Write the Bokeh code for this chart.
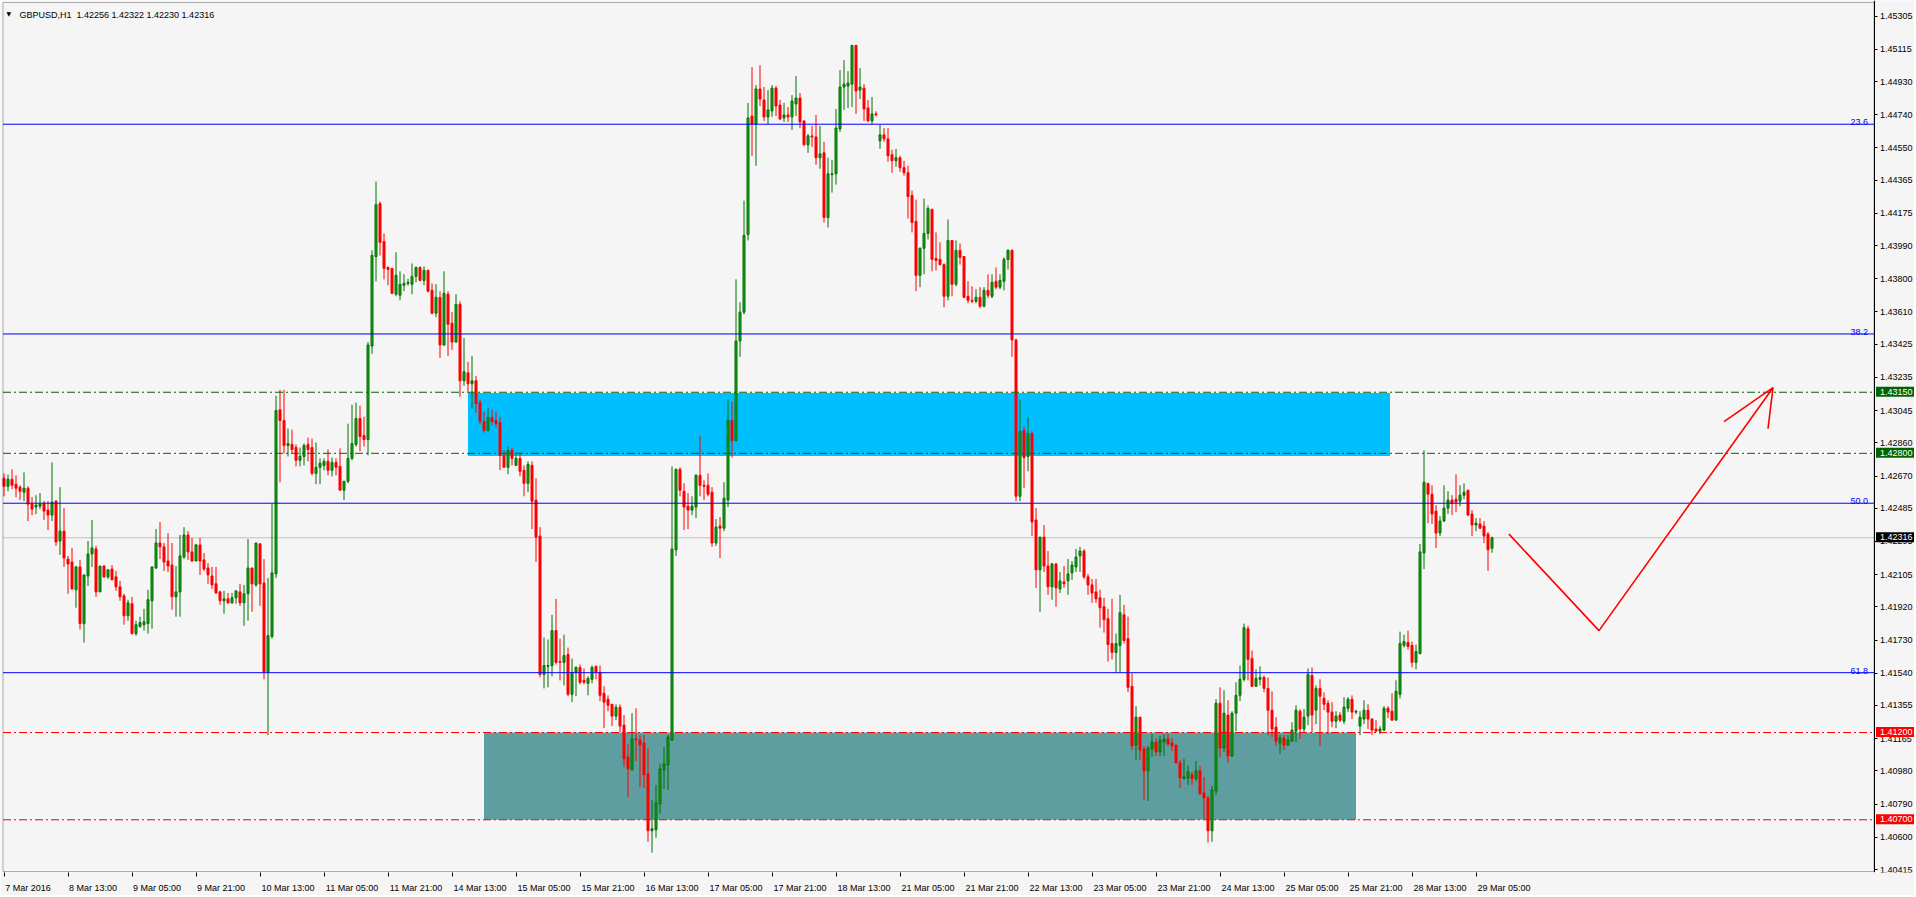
from bokeh.plotting import figure
from bokeh.models import (Range1d, FixedTicker, PrintfTickFormatter, BoxAnnotation,
                          Label, ColumnDataSource, LinearAxis)
from bokeh.embed import file_html
from bokeh.resources import INLINE

# ---------------- data (GBPUSD H1) ----------------
bar_open = [
 1.42657, 1.42611, 1.42651, 1.42623, 1.42606, 1.42577, 1.42600, 1.42509, 1.42492, 1.42497,
 1.42514, 1.42475, 1.42446, 1.42526, 1.42298, 1.42354, 1.42194, 1.42177, 1.42018, 1.42149,
 1.41824, 1.42097, 1.42223, 1.42252, 1.42006, 1.42154, 1.42092, 1.42137, 1.42092, 1.42035,
 1.41983, 1.41869, 1.41938, 1.41767, 1.41807, 1.41818, 1.41824, 1.41955, 1.42143, 1.42286,
 1.42264, 1.42183, 1.42160, 1.41978, 1.42006, 1.42206, 1.42332, 1.42235, 1.42183, 1.42275,
 1.42189, 1.42143, 1.42097, 1.42052, 1.42006, 1.41955, 1.41966, 1.41943, 1.41972, 1.42006,
 1.41943, 1.41995, 1.42143, 1.42046, 1.42281, 1.42057, 1.41545, 1.41750, 1.42109, 1.43050,
 1.42988, 1.42845, 1.42851, 1.42833, 1.42760, 1.42782, 1.42851, 1.42833, 1.42685, 1.42720,
 1.42731, 1.42754, 1.42703, 1.42748, 1.42725, 1.42589, 1.42640, 1.42771, 1.42851, 1.42999,
 1.42902, 1.42879, 1.43415, 1.43928, 1.44231, 1.44014, 1.43865, 1.43860, 1.43712, 1.43706,
 1.43763, 1.43774, 1.43769, 1.43814, 1.43865, 1.43791, 1.43848, 1.43734, 1.43603, 1.43694,
 1.43421, 1.43712, 1.43546, 1.43438, 1.43654, 1.43216, 1.43261, 1.43199, 1.43216, 1.43090,
 1.42982, 1.42931, 1.43005, 1.42988, 1.42976, 1.42788, 1.42720, 1.42817, 1.42731, 1.42771,
 1.42703, 1.42628, 1.42731, 1.42532, 1.42326, 1.41533, 1.41579, 1.41584, 1.41784, 1.41607,
 1.41602, 1.41647, 1.41419, 1.41545, 1.41573, 1.41499, 1.41482, 1.41505, 1.41579, 1.41545,
 1.41425, 1.41391, 1.41362, 1.41294, 1.41345, 1.41242, 1.41060, 1.40986, 1.41163, 1.41157,
 1.41140, 1.40963, 1.40637, 1.40643, 1.40791, 1.40986, 1.41014, 1.41157, 1.42247, 1.42708,
 1.42583, 1.42497, 1.42475, 1.42492, 1.42674, 1.42617, 1.42617, 1.42577, 1.42286, 1.42383,
 1.42371, 1.42532, 1.42988, 1.42873, 1.43444, 1.43609, 1.44054, 1.44733, 1.44687, 1.44888,
 1.44825, 1.44728, 1.44762, 1.44893, 1.44796, 1.44722, 1.44739, 1.44728, 1.44802, 1.44836,
 1.44705, 1.44568, 1.44619, 1.44613, 1.44494, 1.44522, 1.44151, 1.44397, 1.44402, 1.44659,
 1.44899, 1.44905, 1.44916, 1.45138, 1.44882, 1.44893, 1.44779, 1.44705, 1.44745, 1.44591,
 1.44625, 1.44602, 1.44511, 1.44477, 1.44494, 1.44437, 1.44408, 1.44277, 1.44129, 1.43820,
 1.43975, 1.44060, 1.44197, 1.43917, 1.43911, 1.43882, 1.43700, 1.44020, 1.43769, 1.43963,
 1.43928, 1.43700, 1.43677, 1.43671, 1.43694, 1.43643, 1.43734, 1.43700, 1.43786, 1.43752,
 1.43786, 1.43911, 1.43963, 1.43450, 1.42554, 1.42931, 1.42782, 1.42913, 1.42418, 1.42132,
 1.42320, 1.42154, 1.42035, 1.42166, 1.42023, 1.42063, 1.42069, 1.42115, 1.42149, 1.42212,
 1.42240, 1.42092, 1.42046, 1.42006, 1.41972, 1.41921, 1.41852, 1.41710, 1.41659, 1.41699,
 1.41875, 1.41738, 1.41465, 1.41128, 1.41288, 1.41106, 1.40980, 1.41106, 1.41145, 1.41089,
 1.41145, 1.41163, 1.41140, 1.41128, 1.41026, 1.40935, 1.40940, 1.40958, 1.40935, 1.40980,
 1.40854, 1.40825, 1.40637, 1.40865, 1.41368, 1.41111, 1.41300, 1.41066, 1.41311, 1.41413,
 1.41505, 1.41795, 1.41624, 1.41465, 1.41505, 1.41516, 1.41453, 1.41328, 1.41231, 1.41140,
 1.41168, 1.41128, 1.41151, 1.41208, 1.41322, 1.41220, 1.41294, 1.41527, 1.41328, 1.41453,
 1.41396, 1.41368, 1.41317, 1.41265, 1.41300, 1.41265, 1.41339, 1.41391, 1.41317, 1.41237,
 1.41277, 1.41328, 1.41277, 1.41220, 1.41208, 1.41214, 1.41339, 1.41322, 1.41271, 1.41419,
 1.41699, 1.41716, 1.41699, 1.41602, 1.41653, 1.42229, 1.42628, 1.42566, 1.42469, 1.42343,
 1.42412, 1.42486, 1.42532, 1.42537, 1.42526, 1.42560, 1.42589, 1.42452, 1.42389, 1.42395,
 1.42383, 1.42337, 1.42256,
]

bar_high = [
 1.42685, 1.42679, 1.42708, 1.42674, 1.42617, 1.42691, 1.42611, 1.42549, 1.42560, 1.42572,
 1.42526, 1.42526, 1.42748, 1.42532, 1.42606, 1.42486, 1.42212, 1.42258, 1.42154, 1.42189,
 1.42103, 1.42297, 1.42418, 1.42269, 1.42154, 1.42160, 1.42137, 1.42160, 1.42126, 1.42069,
 1.41995, 1.41961, 1.41978, 1.41841, 1.41864, 1.41909, 1.42018, 1.42149, 1.42366, 1.42406,
 1.42286, 1.42343, 1.42286, 1.42154, 1.42332, 1.42377, 1.42354, 1.42315, 1.42281, 1.42315,
 1.42229, 1.42172, 1.42149, 1.42149, 1.42012, 1.42012, 1.42000, 1.42000, 1.42012, 1.42052,
 1.42046, 1.42309, 1.42143, 1.42286, 1.42286, 1.42194, 1.42086, 1.42514, 1.43130, 1.43164,
 1.43164, 1.42942, 1.42936, 1.42851, 1.42833, 1.42856, 1.42890, 1.42885, 1.42862, 1.42771,
 1.42771, 1.42822, 1.42776, 1.42771, 1.42828, 1.42640, 1.42970, 1.43079, 1.43090, 1.43073,
 1.43010, 1.43438, 1.43963, 1.44357, 1.44243, 1.44060, 1.43871, 1.43860, 1.43952, 1.43843,
 1.43826, 1.43800, 1.43888, 1.43871, 1.43871, 1.43871, 1.43854, 1.43774, 1.43769, 1.43729,
 1.43843, 1.43729, 1.43609, 1.43712, 1.43671, 1.43461, 1.43324, 1.43358, 1.43244, 1.43107,
 1.43039, 1.43062, 1.43050, 1.43039, 1.43010, 1.42817, 1.42839, 1.42833, 1.42794, 1.42794,
 1.42731, 1.42754, 1.42754, 1.42657, 1.42377, 1.41744, 1.41733, 1.41875, 1.41966, 1.41738,
 1.41761, 1.41687, 1.41624, 1.41579, 1.41590, 1.41567, 1.41522, 1.41584, 1.41584, 1.41584,
 1.41465, 1.41413, 1.41362, 1.41362, 1.41362, 1.41300, 1.41134, 1.41311, 1.41339, 1.41185,
 1.41185, 1.41111, 1.40814, 1.40900, 1.41020, 1.41117, 1.41185, 1.42725, 1.42714, 1.42720,
 1.42628, 1.42572, 1.42554, 1.42680, 1.42902, 1.42645, 1.42685, 1.42606, 1.42423, 1.42435,
 1.42634, 1.43107, 1.43096, 1.43797, 1.43666, 1.44248, 1.44808, 1.45013, 1.44910, 1.45024,
 1.44899, 1.44882, 1.44910, 1.44905, 1.44825, 1.44808, 1.44785, 1.44853, 1.44962, 1.44865,
 1.44705, 1.44630, 1.44676, 1.44739, 1.44676, 1.44585, 1.44494, 1.44482, 1.44773, 1.44996,
 1.45053, 1.44990, 1.45138, 1.45138, 1.45007, 1.44916, 1.44825, 1.44842, 1.44760, 1.44682,
 1.44664, 1.44664, 1.44539, 1.44545, 1.44505, 1.44477, 1.44448, 1.44306, 1.44254, 1.43980,
 1.44260, 1.44220, 1.44203, 1.44066, 1.44009, 1.43888, 1.44140, 1.44020, 1.44020, 1.44003,
 1.43928, 1.43786, 1.43757, 1.43740, 1.43752, 1.43752, 1.43826, 1.43826, 1.43865, 1.43826,
 1.43923, 1.43969, 1.43969, 1.43455, 1.43107, 1.42953, 1.43010, 1.42925, 1.42486, 1.42320,
 1.42389, 1.42240, 1.42172, 1.42172, 1.42120, 1.42154, 1.42194, 1.42183, 1.42252, 1.42264,
 1.42252, 1.42109, 1.42080, 1.42080, 1.42018, 1.41972, 1.41909, 1.41966, 1.41767, 1.41989,
 1.41932, 1.41864, 1.41539, 1.41351, 1.41288, 1.41123, 1.41123, 1.41191, 1.41168, 1.41180,
 1.41191, 1.41191, 1.41168, 1.41128, 1.41043, 1.41049, 1.41009, 1.40975, 1.41037, 1.41009,
 1.40946, 1.40837, 1.40894, 1.41391, 1.41459, 1.41442, 1.41385, 1.41322, 1.41488, 1.41584,
 1.41824, 1.41812, 1.41670, 1.41562, 1.41579, 1.41527, 1.41516, 1.41436, 1.41288, 1.41185,
 1.41185, 1.41185, 1.41259, 1.41356, 1.41334, 1.41334, 1.41567, 1.41573, 1.41470, 1.41505,
 1.41430, 1.41385, 1.41374, 1.41322, 1.41317, 1.41402, 1.41402, 1.41413, 1.41330, 1.41322,
 1.41385, 1.41362, 1.41282, 1.41271, 1.41237, 1.41351, 1.41351, 1.41425, 1.41499, 1.41778,
 1.41761, 1.41784, 1.41721, 1.41704, 1.42281, 1.42817, 1.42628, 1.42617, 1.42503, 1.42440,
 1.42617, 1.42583, 1.42560, 1.42680, 1.42617, 1.42628, 1.42589, 1.42475, 1.42429, 1.42429,
 1.42412, 1.42349, 1.42322,
]

bar_low = [
 1.42554, 1.42583, 1.42594, 1.42549, 1.42532, 1.42526, 1.42412, 1.42446, 1.42452, 1.42480,
 1.42418, 1.42360, 1.42412, 1.42269, 1.42218, 1.42149, 1.41995, 1.42018, 1.41915, 1.41790,
 1.41716, 1.42040, 1.42149, 1.41978, 1.42006, 1.42086, 1.42080, 1.42075, 1.42012, 1.41955,
 1.41818, 1.41841, 1.41761, 1.41755, 1.41801, 1.41784, 1.41767, 1.41795, 1.42137, 1.42194,
 1.42126, 1.42120, 1.41904, 1.41864, 1.41864, 1.42194, 1.42189, 1.42177, 1.42183, 1.42103,
 1.42126, 1.42052, 1.42023, 1.41995, 1.41932, 1.41881, 1.41938, 1.41938, 1.41938, 1.41926,
 1.41812, 1.41841, 1.41892, 1.42035, 1.41926, 1.41505, 1.41185, 1.41738, 1.42086, 1.42634,
 1.42799, 1.42782, 1.42799, 1.42725, 1.42725, 1.42731, 1.42754, 1.42674, 1.42623, 1.42623,
 1.42703, 1.42674, 1.42668, 1.42674, 1.42589, 1.42532, 1.42628, 1.42760, 1.42839, 1.42811,
 1.42839, 1.42788, 1.43370, 1.43785, 1.43934, 1.43797, 1.43763, 1.43712, 1.43700, 1.43677,
 1.43729, 1.43760, 1.43712, 1.43780, 1.43786, 1.43763, 1.43723, 1.43597, 1.43580, 1.43347,
 1.43415, 1.43358, 1.43393, 1.43432, 1.43124, 1.43187, 1.43153, 1.43056, 1.43033, 1.42965,
 1.42919, 1.42925, 1.42959, 1.42948, 1.42703, 1.42720, 1.42680, 1.42731, 1.42731, 1.42668,
 1.42554, 1.42577, 1.42366, 1.42177, 1.41516, 1.41453, 1.41459, 1.41522, 1.41590, 1.41499,
 1.41470, 1.41408, 1.41374, 1.41408, 1.41476, 1.41476, 1.41413, 1.41482, 1.41505, 1.41380,
 1.41225, 1.41322, 1.41237, 1.41271, 1.41203, 1.41003, 1.40831, 1.40986, 1.41037, 1.40888,
 1.40882, 1.40574, 1.40512, 1.40597, 1.40734, 1.40877, 1.40871, 1.41151, 1.42212, 1.42554,
 1.42360, 1.42366, 1.42446, 1.42429, 1.42554, 1.42532, 1.42554, 1.42264, 1.42269, 1.42200,
 1.42354, 1.42492, 1.42776, 1.42868, 1.43353, 1.43597, 1.44020, 1.44505, 1.44448, 1.44790,
 1.44705, 1.44687, 1.44728, 1.44733, 1.44710, 1.44699, 1.44699, 1.44653, 1.44733, 1.44664,
 1.44562, 1.44522, 1.44556, 1.44454, 1.44431, 1.44123, 1.44094, 1.44294, 1.44340, 1.44642,
 1.44768, 1.44779, 1.44785, 1.44745, 1.44831, 1.44705, 1.44699, 1.44687, 1.44730, 1.44545,
 1.44585, 1.44471, 1.44408, 1.44443, 1.44414, 1.44391, 1.44146, 1.44066, 1.43729, 1.43752,
 1.43826, 1.44026, 1.43843, 1.43848, 1.43877, 1.43637, 1.43677, 1.43700, 1.43757, 1.43882,
 1.43689, 1.43660, 1.43660, 1.43660, 1.43632, 1.43637, 1.43689, 1.43689, 1.43740, 1.43740,
 1.43734, 1.43854, 1.43353, 1.42526, 1.42526, 1.42600, 1.42697, 1.42326, 1.42029, 1.41892,
 1.42120, 1.41989, 1.41961, 1.41921, 1.42000, 1.42029, 1.41989, 1.42075, 1.42120, 1.42120,
 1.42080, 1.41989, 1.41943, 1.41943, 1.41801, 1.41773, 1.41607, 1.41619, 1.41545, 1.41545,
 1.41710, 1.41431, 1.41100, 1.41043, 1.41043, 1.40814, 1.40808, 1.41060, 1.41066, 1.41066,
 1.41066, 1.41123, 1.41094, 1.41026, 1.40882, 1.40935, 1.40900, 1.40900, 1.40923, 1.40848,
 1.40706, 1.40569, 1.40574, 1.40842, 1.41060, 1.41089, 1.41026, 1.41060, 1.41208, 1.41380,
 1.41493, 1.41499, 1.41465, 1.41465, 1.41470, 1.41431, 1.41185, 1.41174, 1.41123, 1.41077,
 1.41100, 1.41128, 1.41145, 1.41145, 1.41163, 1.41203, 1.41242, 1.41203, 1.41248, 1.41123,
 1.41328, 1.41191, 1.41231, 1.41225, 1.41259, 1.41248, 1.41317, 1.41277, 1.41305, 1.41185,
 1.41248, 1.41220, 1.41185, 1.41203, 1.41191, 1.41208, 1.41282, 1.41271, 1.41271, 1.41396,
 1.41687, 1.41676, 1.41573, 1.41562, 1.41647, 1.42137, 1.42400, 1.42395, 1.42258, 1.42326,
 1.42406, 1.42452, 1.42446, 1.42463, 1.42497, 1.42537, 1.42440, 1.42326, 1.42354, 1.42366,
 1.42286, 1.42126, 1.42230,
]

bar_close = [
 1.42611, 1.42651, 1.42617, 1.42600, 1.42583, 1.42600, 1.42509, 1.42480, 1.42503, 1.42509,
 1.42469, 1.42446, 1.42520, 1.42292, 1.42354, 1.42200, 1.42166, 1.42023, 1.42149, 1.41824,
 1.42103, 1.42223, 1.42258, 1.42006, 1.42154, 1.42092, 1.42132, 1.42075, 1.42035, 1.41978,
 1.41869, 1.41943, 1.41767, 1.41818, 1.41830, 1.41835, 1.41961, 1.42149, 1.42286, 1.42264,
 1.42177, 1.42154, 1.41978, 1.42006, 1.42212, 1.42332, 1.42235, 1.42183, 1.42275, 1.42183,
 1.42137, 1.42103, 1.42046, 1.42000, 1.41955, 1.41966, 1.41943, 1.41972, 1.42012, 1.41943,
 1.41995, 1.42143, 1.42052, 1.42286, 1.42052, 1.41545, 1.41755, 1.42115, 1.43045, 1.42988,
 1.42845, 1.42856, 1.42822, 1.42760, 1.42782, 1.42845, 1.42822, 1.42685, 1.42720, 1.42743,
 1.42754, 1.42703, 1.42748, 1.42720, 1.42589, 1.42640, 1.42771, 1.42856, 1.42999, 1.42896,
 1.42879, 1.43421, 1.43934, 1.44225, 1.44009, 1.43860, 1.43854, 1.43717, 1.43820, 1.43769,
 1.43774, 1.43780, 1.43814, 1.43865, 1.43791, 1.43848, 1.43729, 1.43603, 1.43694, 1.43421,
 1.43717, 1.43540, 1.43438, 1.43654, 1.43216, 1.43267, 1.43199, 1.43216, 1.43084, 1.42982,
 1.42931, 1.43005, 1.42982, 1.42970, 1.42788, 1.42720, 1.42817, 1.42771, 1.42771, 1.42697,
 1.42628, 1.42737, 1.42526, 1.42320, 1.41533, 1.41584, 1.41584, 1.41784, 1.41602, 1.41602,
 1.41641, 1.41419, 1.41545, 1.41573, 1.41488, 1.41488, 1.41510, 1.41573, 1.41545, 1.41413,
 1.41374, 1.41357, 1.41294, 1.41345, 1.41237, 1.41049, 1.40992, 1.41163, 1.41157, 1.41128,
 1.40958, 1.40637, 1.40649, 1.40797, 1.40992, 1.41020, 1.41174, 1.42252, 1.42708, 1.42589,
 1.42492, 1.42475, 1.42497, 1.42674, 1.42617, 1.42611, 1.42566, 1.42286, 1.42377, 1.42371,
 1.42543, 1.42988, 1.42873, 1.43444, 1.43609, 1.44049, 1.44722, 1.44687, 1.44888, 1.44830,
 1.44728, 1.44768, 1.44893, 1.44790, 1.44716, 1.44739, 1.44728, 1.44819, 1.44836, 1.44699,
 1.44568, 1.44619, 1.44613, 1.44494, 1.44516, 1.44151, 1.44402, 1.44402, 1.44664, 1.44899,
 1.44916, 1.44922, 1.45138, 1.44876, 1.44899, 1.44773, 1.44705, 1.44745, 1.44740, 1.44625,
 1.44602, 1.44505, 1.44477, 1.44494, 1.44437, 1.44408, 1.44271, 1.44123, 1.43820, 1.43975,
 1.44060, 1.44203, 1.43911, 1.43905, 1.43882, 1.43700, 1.44020, 1.43769, 1.43963, 1.43923,
 1.43694, 1.43677, 1.43671, 1.43694, 1.43643, 1.43734, 1.43706, 1.43780, 1.43752, 1.43791,
 1.43911, 1.43963, 1.43450, 1.42554, 1.42925, 1.42776, 1.42913, 1.42406, 1.42132, 1.42320,
 1.42154, 1.42035, 1.42166, 1.42029, 1.42069, 1.42052, 1.42109, 1.42160, 1.42206, 1.42240,
 1.42092, 1.42046, 1.42000, 1.41966, 1.41915, 1.41847, 1.41704, 1.41659, 1.41710, 1.41887,
 1.41727, 1.41459, 1.41123, 1.41288, 1.41100, 1.40980, 1.41111, 1.41145, 1.41089, 1.41157,
 1.41163, 1.41134, 1.41123, 1.41026, 1.40940, 1.40946, 1.40975, 1.40935, 1.40980, 1.40848,
 1.40825, 1.40637, 1.40871, 1.41368, 1.41111, 1.41311, 1.41066, 1.41311, 1.41413, 1.41505,
 1.41801, 1.41619, 1.41465, 1.41510, 1.41516, 1.41453, 1.41328, 1.41220, 1.41151, 1.41168,
 1.41128, 1.41157, 1.41214, 1.41328, 1.41220, 1.41288, 1.41533, 1.41300, 1.41453, 1.41408,
 1.41362, 1.41317, 1.41265, 1.41294, 1.41271, 1.41345, 1.41391, 1.41317, 1.41322, 1.41288,
 1.41328, 1.41277, 1.41214, 1.41208, 1.41220, 1.41339, 1.41317, 1.41271, 1.41436, 1.41710,
 1.41721, 1.41693, 1.41602, 1.41664, 1.42235, 1.42634, 1.42566, 1.42452, 1.42343, 1.42412,
 1.42486, 1.42532, 1.42514, 1.42520, 1.42560, 1.42577, 1.42446, 1.42389, 1.42400, 1.42371,
 1.42326, 1.42247, 1.42316,
]

time_labels = ["7 Mar 2016", "8 Mar 13:00", "9 Mar 05:00", "9 Mar 21:00", "10 Mar 13:00",
               "11 Mar 05:00", "11 Mar 21:00", "14 Mar 13:00", "15 Mar 05:00", "15 Mar 21:00",
               "16 Mar 13:00", "17 Mar 05:00", "17 Mar 21:00", "18 Mar 13:00", "21 Mar 05:00",
               "21 Mar 21:00", "22 Mar 13:00", "23 Mar 05:00", "23 Mar 21:00", "24 Mar 13:00",
               "25 Mar 05:00", "25 Mar 21:00", "28 Mar 13:00", "29 Mar 05:00"]
time_label_bars = [0, 16, 32, 48, 64, 80, 96, 112, 128, 144, 160, 176, 192, 208, 224,
                   240, 256, 272, 288, 304, 320, 336, 352, 368]

price_ticks = [1.45305, 1.45115, 1.44930, 1.44740, 1.44550, 1.44365, 1.44175, 1.43990,
               1.43800, 1.43610, 1.43425, 1.43235, 1.43045, 1.42860, 1.42670, 1.42485,
               1.42295, 1.42105, 1.41920, 1.41730, 1.41540, 1.41355, 1.41165, 1.40980,
               1.40790, 1.40600, 1.40415]

fib_levels = [1.44686, 1.43484, 1.42514, 1.41543]
fib_names = ["23.6", "38.2", "50.0", "61.8"]
supply_levels = [1.43150, 1.42800]
demand_levels = [1.41200, 1.40700]
bid_price = 1.42316
symbol_text = "GBPUSD,H1\u00a0 1.42256 1.42322 1.42230 1.42316"

supply_zone = dict(left=116, right=346.5, bottom=1.42785, top=1.43145)
demand_zone = dict(left=120, right=338, bottom=1.40700, top=1.41200)

path_bars = [376.25, 398.75, 442.25]
path_prices = [1.42337, 1.41784, 1.43176]
head_bars = [[430.0, 442.25], [441.0, 442.25]]
head_prices = [[1.42982, 1.43176], [1.42942, 1.43176]]

# ---------------- layout / styling ----------------
BG = "#F5F5F5"
FONT = "Liberation Sans"
BULL_FILL = "#18A018"
BULL_LINE = "#007000"
BEAR = "#FF0000"
W, H = 1914, 895
PPB = 4.0                       # pixels per hourly bar
PPU = 17530.0                   # pixels per 1.0 of price
MB_BOTTOM = 19
X_START = -0.875                # left edge of the canvas in bar units
X_END = X_START + W / PPB
Y_TOP = 1.45395                 # price at the top edge of the canvas
Y_BOTTOM = Y_TOP - (H - MB_BOTTOM) / PPU
CHART_L, CHART_R = -0.25, 467.5          # chart border in bar units
CHART_T = Y_TOP - 2 / PPU
CHART_B = Y_TOP - 875 / PPU

p = figure(width=W, height=H, x_range=Range1d(X_START, X_END),
           y_range=Range1d(Y_BOTTOM, Y_TOP), y_axis_location=None,
           toolbar_location=None, output_backend="svg",
           min_border_left=0, min_border_top=0, min_border_right=0,
           min_border_bottom=MB_BOTTOM, background_fill_color=BG, border_fill_color=BG,
           outline_line_color=None)
p.grid.visible = False

n = min(len(bar_open), len(bar_high), len(bar_low), len(bar_close))
idx = list(range(n))
bull = [i for i in idx if bar_close[i] >= bar_open[i]]
bear = [i for i in idx if bar_close[i] < bar_open[i]]

def src(ids):
    return ColumnDataSource(dict(
        x=ids,
        hi=[bar_high[i] for i in ids],
        lo=[bar_low[i] for i in ids],
        top=[max(bar_open[i], bar_close[i]) for i in ids],
        bot=[min(bar_open[i], bar_close[i]) for i in ids],
    ))

s_bull, s_bear = src(bull), src(bear)

# zones drawn as background
p.add_layout(BoxAnnotation(level="underlay", fill_color="#00BFFF", fill_alpha=1.0,
                           line_alpha=0, **supply_zone))
p.add_layout(BoxAnnotation(level="underlay", fill_color="#5F9EA0", fill_alpha=1.0,
                           line_alpha=0, **demand_zone))

# bid line behind candles
p.segment(x0=CHART_L, y0=bid_price, x1=CHART_R, y1=bid_price, line_color="#C0C0C0",
          line_width=1)

p.segment(x0="x", y0="lo", x1="x", y1="hi", source=s_bull, line_color=BULL_LINE, line_width=1)
p.segment(x0="x", y0="lo", x1="x", y1="hi", source=s_bear, line_color=BEAR, line_width=1)
p.vbar(x="x", width=0.5, top="top", bottom="bot", source=s_bull,
       fill_color=BULL_FILL, line_color=BULL_LINE, line_width=1)
p.vbar(x="x", width=0.5, top="top", bottom="bot", source=s_bear,
       fill_color=BEAR, line_color=BEAR, line_width=1)

# fibo levels
for lv, nm in zip(fib_levels, fib_names):
    p.segment(x0=CHART_L, y0=lv, x1=CHART_R, y1=lv, line_color="#0000FF", line_width=1)
    p.add_layout(Label(x=CHART_R, y=lv, text=nm, x_offset=-6, y_offset=2, text_align="right",
                       text_baseline="alphabetic", text_color="#0000FF", text_font=FONT,
                       text_font_size="9px"))

for lv in supply_levels:
    p.segment(x0=CHART_L, y0=lv, x1=CHART_R, y1=lv, line_color="#006400", line_width=1,
              line_dash="8 3 2 3")
for lv in demand_levels:
    p.segment(x0=CHART_L, y0=lv, x1=CHART_R, y1=lv, line_color="#FF0000", line_width=1,
              line_dash="8 3 2 3")

# hand-drawn projection
p.line(path_bars, path_prices, line_color="#FF0000", line_width=1.6)
for hb, hp in zip(head_bars, head_prices):
    p.line(hb, hp, line_color="#FF0000", line_width=1.6)

# chart border
p.add_layout(BoxAnnotation(left=CHART_L, right=CHART_R, top=CHART_T, bottom=CHART_B,
                           fill_alpha=0, line_color="black", line_width=1, level="overlay"))

# price axis sitting on the right border of the chart
ya = LinearAxis(fixed_location=CHART_R)
ya.ticker = FixedTicker(ticks=price_ticks)
ya.formatter = PrintfTickFormatter(format="%.5f")
ya.major_tick_out = 3
ya.major_tick_in = 0
ya.minor_tick_out = 0
ya.minor_tick_in = 0
ya.major_label_standoff = 3
ya.axis_line_color = "black"
ya.major_tick_line_color = "black"
ya.major_label_text_font = FONT
ya.major_label_text_font_size = "9px"
ya.major_label_text_color = "black"
p.add_layout(ya, "right")

# price tags on the scale (boxes drawn above the scale labels)
tags = [(supply_levels[0], "#006400"), (supply_levels[1], "#006400"),
        (bid_price, "#000000"), (demand_levels[0], "#FF0000"), (demand_levels[1], "#FF0000")]
tag_src = ColumnDataSource(dict(
    left=[CHART_R + 2 / PPB] * len(tags),
    right=[X_END] * len(tags),
    bottom=[lv - 4.5 / PPU for lv, _ in tags],
    top=[lv + 5.5 / PPU for lv, _ in tags],
    color=[c for _, c in tags],
))
tag_boxes = p.quad(left="left", right="right", bottom="bottom", top="top", source=tag_src,
                   fill_color="color", line_color=None)
tag_boxes.level = "overlay"
for lv, col in tags:
    p.add_layout(Label(x=CHART_R, y=lv, text="%.5f" % lv, x_offset=6, y_offset=0.5,
                       text_align="left", text_baseline="middle", text_color="white",
                       text_font=FONT, text_font_size="9px", level="overlay"))

# symbol header
p.add_layout(Label(x=X_START, y=Y_TOP, text="\u25BC", x_offset=6, y_offset=-13,
                   text_baseline="alphabetic", text_align="left", text_font="DejaVu Sans",
                   text_font_size="6px", text_color="black"))
p.add_layout(Label(x=X_START, y=Y_TOP, text=symbol_text, x_offset=19, y_offset=-14,
                   text_baseline="alphabetic", text_align="left", text_font=FONT,
                   text_font_size="9px", text_color="black"))

# time axis: minor ticks at the bars, labels placed just right of each tick
def text_width(s, size=9.0):
    w = 0.0
    for ch in s:
        if ch.isdigit():
            w += 0.556
        elif ch in " :":
            w += 0.278
        elif ch == "M":
            w += 0.833
        elif ch == "r":
            w += 0.333
        else:
            w += 0.556
    return w * size

centers = [round((b + (1.0 + text_width(t) / 2) / PPB) * 4) / 4
           for b, t in zip(time_label_bars, time_labels)]
xa = p.xaxis[0]
xa.ticker = FixedTicker(ticks=centers, minor_ticks=time_label_bars)
xa.major_label_overrides = {c: t for c, t in zip(centers, time_labels)}
xa.major_tick_out = 0
xa.major_tick_in = 0
xa.minor_tick_out = 4
xa.minor_tick_in = 0
xa.minor_tick_line_color = "black"
xa.major_label_standoff = 6
xa.axis_line_color = None
xa.major_label_text_font = FONT
xa.major_label_text_font_size = "9px"
xa.major_label_text_color = "black"

open("out.html", "w").write(file_html(p, INLINE))
